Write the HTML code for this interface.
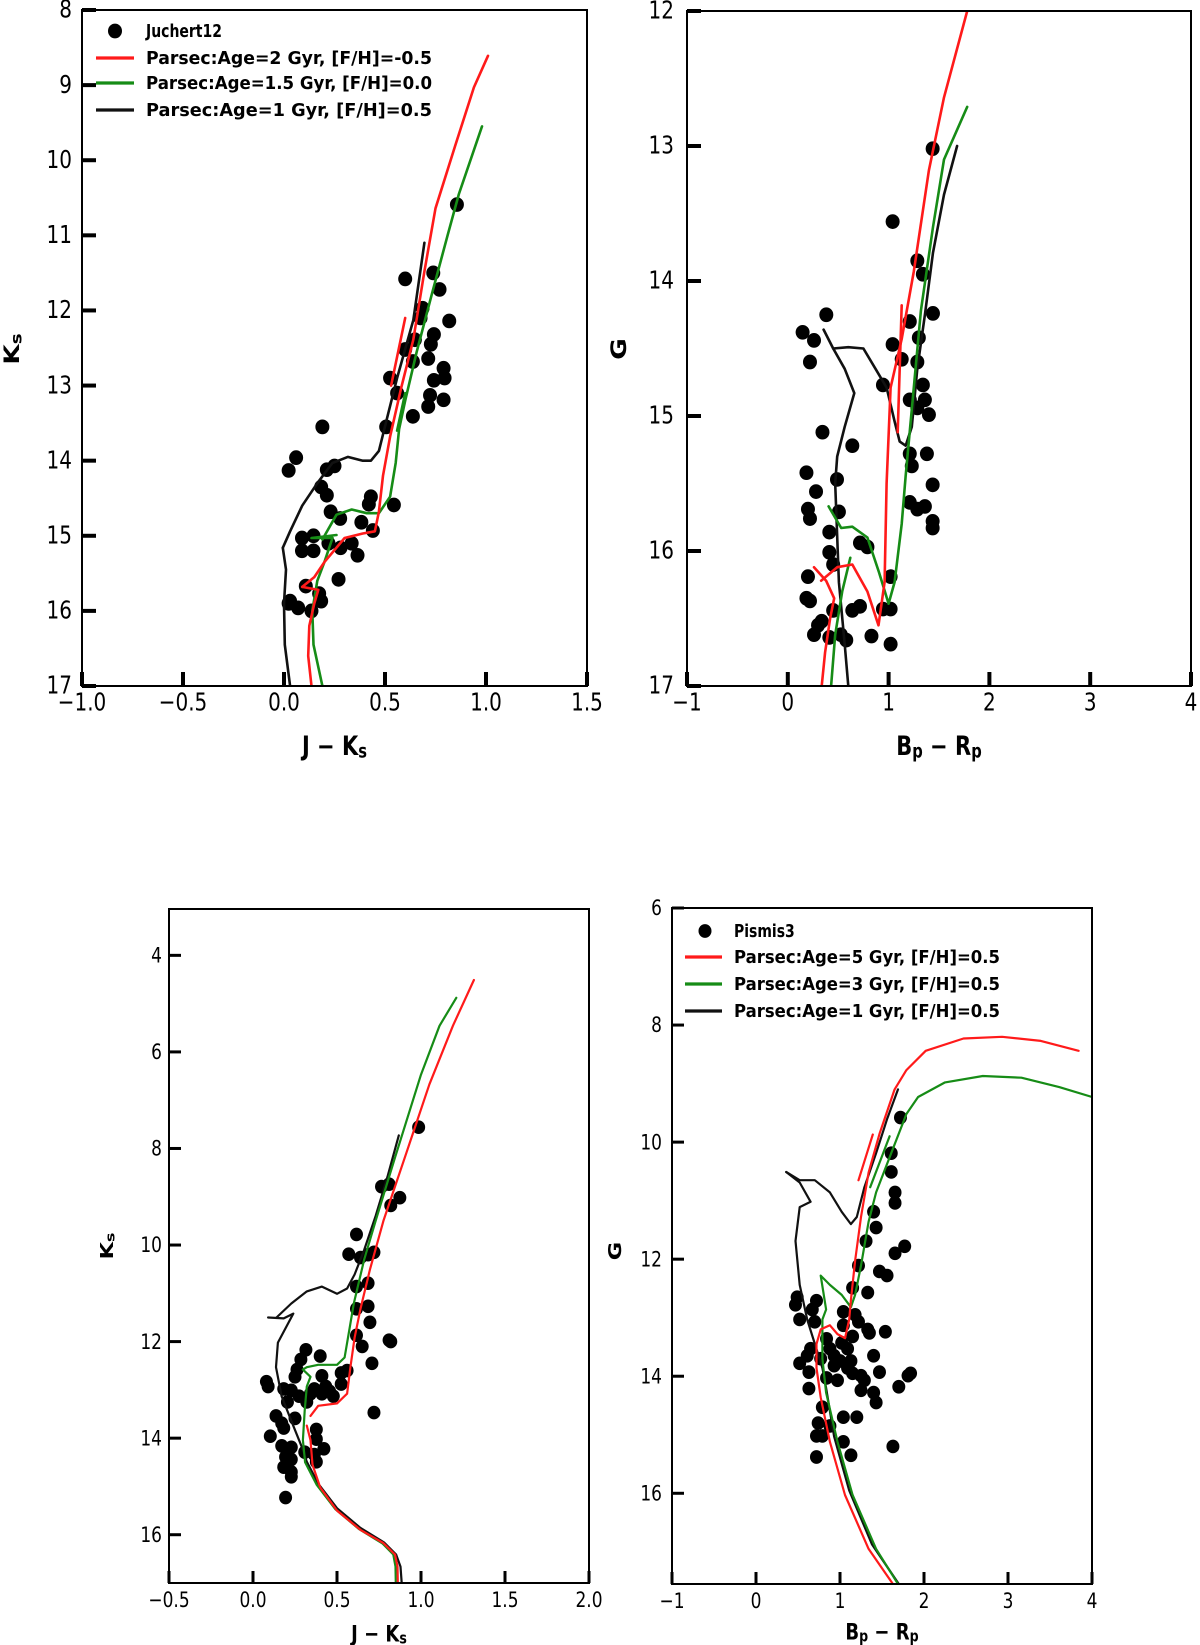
<!DOCTYPE html>
<html><head><meta charset="utf-8"><style>
html,body{margin:0;padding:0;background:#fff;}
svg{display:block;}
text{font-family:"DejaVu Sans","Liberation Sans",sans-serif;fill:#000;}
.leg{font-family:"DejaVu Sans","Liberation Sans",sans-serif;font-weight:bold;}
</style></head><body>
<svg id="fig" width="1200" height="1645" viewBox="0 0 1200 1645" xmlns="http://www.w3.org/2000/svg"></svg>
<script>
// ---------- Panel 1: Juchert12, J-Ks vs Ks ----------
const p1Stars = [[0.856,10.59],[0.60,11.58],[0.739,11.50],[0.77,11.72],[0.686,11.97],[0.676,12.1],[0.818,12.14],[0.742,12.32],[0.648,12.39],[0.60,12.52],[0.727,12.45],[0.714,12.64],[0.638,12.68],[0.79,12.77],[0.525,12.9],[0.742,12.93],[0.795,12.9],[0.723,13.13],[0.79,13.19],[0.714,13.28],[0.638,13.41],[0.56,13.1],[0.506,13.55],[0.19,13.55],[0.06,13.96],[0.023,14.13],[0.212,14.12],[0.25,14.07],[0.184,14.35],[0.212,14.46],[0.43,14.48],[0.42,14.58],[0.544,14.59],[0.231,14.68],[0.278,14.77],[0.383,14.82],[0.44,14.93],[0.089,15.03],[0.146,15.0],[0.089,15.2],[0.146,15.2],[0.22,15.1],[0.28,15.16],[0.364,15.26],[0.335,15.1],[0.27,15.58],[0.108,15.67],[0.174,15.77],[0.023,15.9],[0.07,15.96],[0.136,16.0],[0.184,15.87],[0.03,15.87]];
const p1RedMS = [[0.136,17],[0.12,16.6],[0.125,16.2],[0.15,15.9],[0.17,15.72],[0.09,15.68]];
const p1RedRGB = [[0.09,15.68],[0.15,15.55],[0.2,15.35],[0.3,15.03],[0.39,14.97],[0.45,14.94],[0.47,14.68],[0.49,14.2],[0.525,13.68],[0.58,13.03],[0.64,12.39],[0.695,11.48],[0.75,10.64],[0.847,9.81],[0.94,9.03],[1.01,8.61]];
const p1RedClump = [[0.53,13.0],[0.6,12.1]];
const p1GreenMS = [[0.19,17],[0.146,16.45],[0.14,16.0],[0.165,15.6],[0.2,15.35],[0.24,15.03],[0.136,15.03],[0.26,14.99]];
const p1GreenRGB = [[0.19,15.05],[0.26,14.72],[0.335,14.65],[0.41,14.7],[0.47,14.7],[0.525,14.48],[0.553,14.03],[0.57,13.58],[0.6,13.2],[0.657,12.55],[0.733,11.77],[0.81,11.0],[0.866,10.45],[0.98,9.55]];
const p1GreenClump = [[0.56,13.6],[0.6,13.1]];
const p1BlackMS = [[0.03,17],[0.004,16.45],[0.0,15.9],[0.01,15.45],[-0.006,15.16]];
const p1BlackRGB = [[-0.006,15.16],[0.03,14.94],[0.09,14.6],[0.165,14.3],[0.24,14.03],[0.316,13.95],[0.39,14.0],[0.43,14.0],[0.47,13.87],[0.506,13.48],[0.56,12.9],[0.64,12.13],[0.695,11.1]];
const p1XTicks = [-1.0,-0.5,0.0,0.5,1.0,1.5];
const p1XTickLabels = ["\u22121.0","\u22120.5","0.0","0.5","1.0","1.5"];
const p1YTicks = [8,9,10,11,12,13,14,15,16,17];

// ---------- Panel 2: Juchert12, Bp-Rp vs G ----------
const p2Stars = [[1.437,13.02],[1.04,13.56],[1.285,13.85],[1.34,13.95],[1.44,14.24],[1.21,14.30],[0.382,14.25],[0.147,14.38],[0.26,14.44],[0.22,14.6],[1.04,14.47],[1.13,14.58],[1.285,14.6],[1.30,14.42],[1.34,14.77],[0.944,14.77],[1.36,14.88],[1.21,14.88],[1.40,14.99],[1.285,14.94],[0.344,15.12],[0.64,15.22],[1.38,15.28],[1.21,15.28],[1.23,15.37],[0.185,15.42],[0.28,15.56],[0.488,15.47],[1.437,15.51],[1.21,15.64],[1.36,15.67],[1.285,15.69],[0.2,15.69],[0.22,15.76],[0.507,15.71],[1.437,15.78],[1.437,15.83],[0.412,15.86],[0.716,15.94],[0.79,15.97],[0.412,16.01],[0.45,16.1],[0.2,16.19],[1.02,16.19],[0.185,16.35],[0.22,16.37],[0.716,16.41],[0.64,16.44],[0.944,16.43],[1.02,16.43],[0.336,16.52],[0.3,16.55],[0.26,16.62],[0.412,16.64],[0.526,16.62],[0.58,16.66],[0.83,16.63],[1.02,16.69],[0.45,16.44]];
const p2RedMS = [[0.336,17],[0.37,16.75],[0.42,16.5],[0.46,16.35],[0.38,16.22],[0.26,16.12]];
const p2RedRGB = [[0.33,16.22],[0.49,16.12],[0.64,16.1],[0.79,16.3],[0.9,16.55],[0.96,16.23],[0.98,15.5],[1.02,14.79],[1.13,14.43],[1.25,13.93],[1.4,13.18],[1.55,12.64],[1.78,12.0]];
const p2RedClump = [[1.13,14.18],[1.09,15.12]];
const p2GreenMS = [[0.43,17],[0.47,16.62],[0.54,16.3],[0.62,16.05]];
const p2GreenRGB = [[0.405,15.67],[0.53,15.83],[0.64,15.82],[0.79,15.9],[0.906,16.16],[1.0,16.39],[1.06,16.23],[1.13,15.8],[1.17,15.44],[1.25,14.79],[1.32,14.22],[1.44,13.6],[1.55,13.1],[1.78,12.71]];
const p2BlackMS = [[0.6,17],[0.564,16.69],[0.507,16.23],[0.47,15.5],[0.49,15.3],[0.564,15.08],[0.66,14.83],[0.564,14.65],[0.45,14.5],[0.355,14.36]];
const p2BlackRGB = [[0.45,14.5],[0.6,14.49],[0.75,14.5],[0.87,14.65],[0.98,14.79],[1.06,15.04],[1.11,15.19],[1.17,15.22],[1.23,15.08],[1.285,14.65],[1.36,14.25],[1.44,13.79],[1.55,13.36],[1.68,13.0]];
const p2XTicks = [-1,0,1,2,3,4];
const p2XTickLabels = ["\u22121","0","1","2","3","4"];
const p2YTicks = [12,13,14,15,16,17];

// ---------- Panel 3: Pismis3, J-Ks vs Ks ----------
const p3Stars = [[0.986,7.56],[0.874,9.02],[0.81,8.74],[0.765,8.79],[0.82,9.18],[0.616,9.78],[0.57,10.19],[0.64,10.26],[0.685,10.2],[0.72,10.15],[0.616,10.86],[0.685,10.79],[0.616,11.32],[0.685,11.27],[0.696,11.6],[0.616,11.87],[0.65,12.1],[0.82,12.0],[0.81,11.97],[0.708,12.45],[0.72,13.47],[0.315,12.17],[0.285,12.37],[0.4,12.3],[0.262,12.58],[0.25,12.73],[0.41,12.71],[0.525,12.65],[0.56,12.6],[0.09,12.93],[0.08,12.83],[0.183,12.98],[0.228,13.01],[0.274,13.13],[0.342,13.08],[0.41,13.08],[0.456,13.03],[0.478,13.13],[0.525,12.88],[0.205,13.25],[0.32,13.25],[0.365,12.98],[0.433,12.93],[0.137,13.54],[0.171,13.69],[0.25,13.59],[0.183,13.79],[0.103,13.96],[0.377,13.82],[0.377,14.02],[0.171,14.16],[0.228,14.19],[0.422,14.22],[0.308,14.29],[0.365,14.34],[0.194,14.39],[0.377,14.49],[0.183,14.6],[0.228,14.7],[0.228,14.8],[0.194,15.23],[0.228,14.44]];
const p3BlackLine = [[0.885,17.0],[0.878,16.66],[0.852,16.41],[0.78,16.16],[0.64,15.86],[0.5,15.45],[0.39,14.95],[0.32,14.49],[0.297,14.24],[0.228,13.64],[0.17,13.13],[0.137,12.53],[0.148,12.02],[0.194,11.72],[0.24,11.42],[0.183,11.52],[0.09,11.5]];
const p3BlackRGB = [[0.14,11.5],[0.228,11.21],[0.32,10.96],[0.41,10.86],[0.5,11.01],[0.56,10.9],[0.605,10.61],[0.662,10.1],[0.73,9.4],[0.8,8.59],[0.868,7.73]];
const p3GreenLine = [[0.85,17.0],[0.848,16.66],[0.835,16.41],[0.77,16.18],[0.63,15.88],[0.49,15.47],[0.38,14.97],[0.31,14.5],[0.297,14.04],[0.308,13.43],[0.32,12.93],[0.342,12.73],[0.297,12.58]];
const p3GreenRGB = [[0.297,12.58],[0.32,12.53],[0.388,12.48],[0.5,12.48],[0.545,12.33],[0.57,11.82],[0.6,11.21],[0.662,10.3],[0.73,9.5],[0.845,8.19],[1.0,6.47],[1.11,5.46],[1.21,4.88]];
const p3RedLine = [[0.862,17.0],[0.86,16.66],[0.845,16.41],[0.775,16.17],[0.64,15.9],[0.5,15.5],[0.4,15.02],[0.354,14.55],[0.342,14.04],[0.32,13.74]];
const p3RedRGB = [[0.342,13.54],[0.388,13.33],[0.5,13.28],[0.56,13.08],[0.58,12.53],[0.605,11.92],[0.64,11.32],[0.696,10.51],[0.776,9.5],[0.913,8.09],[1.05,6.67],[1.19,5.46],[1.315,4.51]];
const p3XTicks = [-0.5,0.0,0.5,1.0,1.5,2.0];
const p3XTickLabels = ["\u22120.5","0.0","0.5","1.0","1.5","2.0"];
const p3YTicks = [4,6,8,10,12,14,16];

// ---------- Panel 4: Pismis3, Bp-Rp vs G ----------
const p4Stars = [[1.72,9.58],[1.61,10.19],[1.61,10.51],[1.655,10.86],[1.655,11.04],[1.40,11.19],[1.43,11.46],[1.31,11.69],[1.77,11.78],[1.655,11.9],[1.47,12.21],[1.56,12.28],[1.22,12.11],[1.15,12.49],[1.33,12.57],[0.49,12.65],[0.47,12.78],[0.72,12.71],[0.67,12.86],[1.04,12.9],[1.18,12.95],[1.22,13.07],[0.52,13.03],[0.70,13.07],[1.04,13.13],[1.33,13.2],[1.35,13.26],[1.54,13.24],[1.15,13.32],[0.84,13.36],[1.02,13.43],[0.65,13.53],[0.88,13.53],[1.09,13.53],[0.61,13.65],[0.77,13.7],[0.93,13.65],[1.0,13.74],[1.13,13.74],[1.4,13.65],[0.52,13.78],[0.93,13.82],[1.09,13.86],[1.15,13.95],[1.25,13.99],[0.63,13.93],[0.84,14.03],[0.97,14.07],[1.29,14.07],[1.47,13.93],[1.81,13.99],[1.84,13.95],[1.7,14.18],[0.63,14.21],[1.25,14.24],[1.40,14.28],[1.43,14.45],[0.79,14.53],[1.04,14.7],[1.2,14.7],[0.74,14.8],[0.88,14.85],[0.72,15.02],[0.79,15.02],[1.04,15.12],[1.13,15.35],[0.72,15.38],[1.63,15.2]];
const p4RedLine = [[1.63,17.55],[1.34,16.95],[1.06,16.03],[0.88,15.12],[0.77,14.36],[0.72,13.86],[0.72,13.45],[0.77,13.2],[0.88,13.13],[0.97,13.28],[1.06,13.35],[1.11,13.03],[1.13,12.7],[1.18,12.03],[1.25,11.28],[1.34,10.52],[1.47,9.86],[1.65,9.1],[1.79,8.77],[2.02,8.44],[2.47,8.23],[2.93,8.2],[3.39,8.27],[3.84,8.44]];
const p4RedClump = [[1.22,10.65],[1.39,9.87]];
const p4GreenLine = [[1.69,17.55],[1.43,16.95],[1.15,16.03],[0.97,15.12],[0.835,14.28],[0.79,13.7],[0.79,13.03],[0.835,12.86],[0.77,12.28],[0.88,12.44],[1.02,12.61],[1.13,12.82],[1.18,12.61],[1.25,12.11],[1.34,11.36],[1.43,10.86],[1.61,10.19],[1.79,9.52],[1.93,9.23],[2.25,8.98],[2.7,8.87],[3.16,8.9],[3.61,9.06],[4.0,9.23]];
const p4GreenClump = [[1.36,10.77],[1.59,9.9]];
const p4BlackLine = [[1.7,17.55],[1.38,16.87],[1.11,15.95],[0.93,15.03],[0.835,14.2],[0.79,13.86],[0.61,13.03],[0.52,12.44],[0.47,11.69],[0.52,11.11],[0.65,11.02],[0.52,10.69],[0.36,10.51]];
const p4BlackRGB = [[0.36,10.51],[0.52,10.65],[0.7,10.65],[0.88,10.86],[1.02,11.19],[1.13,11.4],[1.2,11.28],[1.29,10.77],[1.43,10.19],[1.56,9.61],[1.69,9.1]];
const p4XTicks = [-1,0,1,2,3,4];
const p4XTickLabels = ["\u22121","0","1","2","3","4"];
const p4YTicks = [6,8,10,12,14,16];

const NS = "http://www.w3.org/2000/svg";
const fig = document.getElementById('fig');
const RED = "#ff1a1a", GREEN = "#168c16", BLACK = "#111";

function mk(tag, attrs, parent){
  const e = document.createElementNS(NS, tag);
  for (const k in attrs) e.setAttribute(k, attrs[k]);
  (parent||fig).appendChild(e);
  return e;
}
function stext(parent, x, y, str, size, anchor, sy, bold){
  const t = mk('text', {transform:`translate(${x},${y}) scale(1,${sy})`, 'font-size':size, 'text-anchor':anchor, 'dominant-baseline':'central'}, parent);
  if (bold) t.setAttribute('font-weight','bold');
  t.textContent = str;
  return t;
}

function panel(cfg){
  const g = mk('g', {});
  
  
  const sx = v => cfg.L + (v - cfg.x0) / (cfg.x1 - cfg.x0) * (cfg.R - cfg.L);
  const sy = v => cfg.T + (v - cfg.y0) / (cfg.y1 - cfg.y0) * (cfg.B - cfg.T);
  const clipId = cfg.name + '-clip';
  const cp = mk('clipPath', {id: clipId}, g);
  mk('rect', {x:cfg.L, y:cfg.T, width:cfg.R-cfg.L, height:cfg.B-cfg.T}, cp);
  const plot = mk('g', {'clip-path':`url(#${clipId})`}, g);
  
  
  // stars
  cfg.stars.forEach(p => {
    const c = mk('ellipse', {cx:sx(p[0]), cy:sy(p[1]), rx:cfg.r, ry:cfg.r*1.05, fill:'#000'}, plot);
    
    
  });
  // lines
  cfg.lines.forEach(ln => {
    const d = ln.pts.map((p,i)=>(i?'L':'M')+sx(p[0]).toFixed(1)+','+sy(p[1]).toFixed(1)).join(' ');
    const pa = mk('path', {d:d, fill:'none', stroke:ln.color, 'stroke-width':cfg.lw, 'stroke-linejoin':'round', 'stroke-linecap':'round'}, plot);
    
    
  });
  // frame
  const fr = mk('rect', {x:cfg.L, y:cfg.T, width:cfg.R-cfg.L, height:cfg.B-cfg.T, fill:'none', stroke:'#000', 'stroke-width':2}, g);
  
  
  // x ticks
  cfg.xt.forEach((v,i) => {
    const x = sx(v);
    const tk = mk('line', {x1:x, x2:x, y1:cfg.B, y2:cfg.B-cfg.tl, stroke:'#000', 'stroke-width':cfg.tw}, g);
    
    
    const lb = stext(g, x, cfg.B+cfg.xlOff, cfg.xtl[i], cfg.fs, 'middle', cfg.scl, false);
    
    
  });
  cfg.yt.forEach(v => {
    const y = sy(v);
    const tk = mk('line', {x1:cfg.L, x2:cfg.L+cfg.tl, y1:y, y2:y, stroke:'#000', 'stroke-width':cfg.tw}, g);
    
    
    const lb = stext(g, cfg.ylX, y, String(v), cfg.fs, 'end', cfg.scl, false);
    
    
  });
  // axis titles
  const xt = mk('text', {transform:`translate(${(cfg.L+cfg.R)/2},${cfg.xTitleY}) scale(1,${cfg.scl})`, 'font-size':cfg.tfs, 'font-weight':'bold', 'text-anchor':'middle', 'dominant-baseline':'central'}, g);
  
  
  xt.innerHTML = cfg.xTitle;
  const yt = mk('text', {transform:`translate(${cfg.yTitleX},${cfg.yTitleY}) rotate(-90) scale(${cfg.scl},1)`, 'font-size':cfg.tfs, 'font-weight':'bold', 'text-anchor':'middle', 'dominant-baseline':'central'}, g);
  
  
  yt.innerHTML = cfg.yTitle;
  // legend
  if (cfg.legend){
    const lg = mk('g', {}, g);
    
    
    const L = cfg.legend;
    const m = mk('ellipse', {cx:L.mx, cy:L.ys[0], rx:cfg.r, ry:cfg.r*1.05, fill:'#000'}, lg);
    
    
    L.labels.forEach((s,i) => {
      if (i>0){
        const ln = mk('line', {x1:L.lx0, x2:L.lx1, y1:L.ys[i], y2:L.ys[i], stroke:[null,RED,GREEN,BLACK][i], 'stroke-width':3.2}, lg);
        
        
      }
      const t = mk('text', {class:'leg', transform:`translate(${L.tx},${L.ys[i]}) scale(1,${cfg.scl})`, 'font-size':L.fs, 'dominant-baseline':'central'}, lg);
      if (i>0) { t.setAttribute('textLength', L.w); t.setAttribute('lengthAdjust','spacingAndGlyphs'); }
      
      
      t.textContent = s;
    });
  }
}

const JK = 'J \u2212 K<tspan font-size="70%" dy="4">s</tspan>';
const BR = 'B<tspan font-size="70%" dy="4">p</tspan><tspan dy="-4"> \u2212 R</tspan><tspan font-size="70%" dy="4">p</tspan>';
const KS = 'K<tspan font-size="70%" dy="4">s</tspan>';

panel({name:'panel-juchert12-jk', L:82,R:587,T:10,B:686, x0:-1,x1:1.5,y0:8,y1:17, r:7, lw:2.6,
  stars:p1Stars,
  lines:[{pts:p1BlackMS,color:BLACK,name:'isochrone-1gyr'},{pts:p1BlackRGB,color:BLACK,name:'isochrone-1gyr-rgb'},
         {pts:p1GreenMS,color:GREEN,name:'isochrone-1p5gyr'},{pts:p1GreenRGB,color:GREEN,name:'isochrone-1p5gyr-rgb'},{pts:p1GreenClump,color:GREEN,name:'isochrone-1p5gyr-clump'},
         {pts:p1RedMS,color:RED,name:'isochrone-2gyr'},{pts:p1RedRGB,color:RED,name:'isochrone-2gyr-rgb'},{pts:p1RedClump,color:RED,name:'isochrone-2gyr-clump'}],
  xt:p1XTicks, xtl:p1XTickLabels, yt:p1YTicks, tl:14, tw:4, fs:20, scl:1.25, xlOff:17, ylX:72,
  xTitle:JK, xTitleY:746, yTitle:KS, yTitleX:12, yTitleY:349, tfs:21,
  legend:{mx:115, lx0:96, lx1:134, tx:146, ys:[31,58,83,110], fs:14, w:286,
    labels:['Juchert12','Parsec:Age=2 Gyr, [F/H]=-0.5','Parsec:Age=1.5 Gyr, [F/H]=0.0','Parsec:Age=1 Gyr, [F/H]=0.5']}
});

panel({name:'panel-juchert12-bprp', L:687,R:1191,T:11,B:686, x0:-1,x1:4,y0:12,y1:17, r:7, lw:2.6,
  stars:p2Stars,
  lines:[{pts:p2BlackMS,color:BLACK,name:'isochrone-1gyr'},{pts:p2BlackRGB,color:BLACK,name:'isochrone-1gyr-rgb'},
         {pts:p2GreenMS,color:GREEN,name:'isochrone-1p5gyr'},{pts:p2GreenRGB,color:GREEN,name:'isochrone-1p5gyr-rgb'},
         {pts:p2RedMS,color:RED,name:'isochrone-2gyr'},{pts:p2RedRGB,color:RED,name:'isochrone-2gyr-rgb'},{pts:p2RedClump,color:RED,name:'isochrone-2gyr-clump'}],
  xt:p2XTicks, xtl:p2XTickLabels, yt:p2YTicks, tl:14, tw:4, fs:20, scl:1.25, xlOff:17, ylX:674,
  xTitle:BR, xTitleY:746, yTitle:'G', yTitleX:619, yTitleY:349, tfs:21
});

panel({name:'panel-pismis3-jk', L:169,R:589,T:909,B:1583, x0:-0.5,x1:2.0,y0:3.04,y1:17, r:6.5, lw:2.2,
  stars:p3Stars,
  lines:[{pts:p3BlackLine,color:BLACK,name:'isochrone-black'},{pts:p3BlackRGB,color:BLACK,name:'isochrone-black-rgb'},
         {pts:p3GreenLine,color:GREEN,name:'isochrone-green'},{pts:p3GreenRGB,color:GREEN,name:'isochrone-green-rgb'},
         {pts:p3RedLine,color:RED,name:'isochrone-red'},{pts:p3RedRGB,color:RED,name:'isochrone-red-rgb'}],
  xt:p3XTicks, xtl:p3XTickLabels, yt:p3YTicks, tl:12, tw:3, fs:17, scl:1.25, xlOff:17, ylX:162,
  xTitle:JK, xTitleY:1634, yTitle:KS, yTitleX:107, yTitleY:1246, tfs:18
});

panel({name:'panel-pismis3-bprp', L:672,R:1092,T:908,B:1584, x0:-1,x1:4,y0:6,y1:17.55, r:6.5, lw:2.2,
  stars:p4Stars,
  lines:[{pts:p4BlackLine,color:BLACK,name:'isochrone-1gyr'},{pts:p4BlackRGB,color:BLACK,name:'isochrone-1gyr-rgb'},
         {pts:p4GreenLine,color:GREEN,name:'isochrone-3gyr'},{pts:p4GreenClump,color:GREEN,name:'isochrone-3gyr-clump'},
         {pts:p4RedLine,color:RED,name:'isochrone-5gyr'},{pts:p4RedClump,color:RED,name:'isochrone-5gyr-clump'}],
  xt:p4XTicks, xtl:p4XTickLabels, yt:p4YTicks, tl:12, tw:3, fs:17, scl:1.25, xlOff:17, ylX:662,
  xTitle:BR, xTitleY:1632, yTitle:'G', yTitleX:615, yTitleY:1251, tfs:18,
  legend:{mx:705, lx0:685, lx1:722, tx:734, ys:[931,957,984,1011], fs:14, w:266,
    labels:['Pismis3','Parsec:Age=5 Gyr, [F/H]=0.5','Parsec:Age=3 Gyr, [F/H]=0.5','Parsec:Age=1 Gyr, [F/H]=0.5']}
});
</script>
</body></html>
